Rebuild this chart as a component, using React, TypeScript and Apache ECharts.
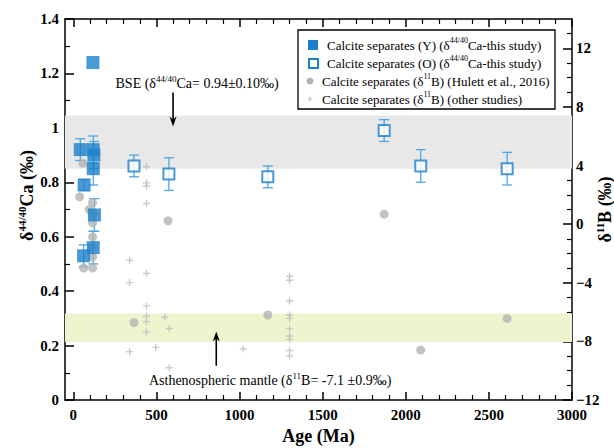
import React, { useEffect, useRef } from "react";
import * as echarts from "echarts";

const FONT = "Liberation Serif";

// ---- tick values ----
const xMajor = [0, 500, 1000, 1500, 2000, 2500, 3000];
const xMinor = [100, 200, 300, 400, 600, 700, 800, 900, 1100, 1200, 1300, 1400, 1600, 1700, 1800, 1900, 2100, 2200, 2300, 2400, 2600, 2700, 2800, 2900];
const yLeftMajor = [0, 0.2, 0.4, 0.6, 0.8, 1, 1.2, 1.4];
const yLeftMinor = [0.1, 0.3, 0.5, 0.7, 0.9, 1.1, 1.3];
const yRightMajor = [-12, -8, -4, 0, 4, 8, 12];
const yRightMinor = [-11, -10, -9, -7, -6, -5, -3, -2, -1, 1, 2, 3, 5, 6, 7, 9, 10, 11, 13];

// ---- data ----
// Calcite separates (Y): age (Ma), δ44/40Ca (‰), ± error
const ageY = [42, 120, 124, 120, 65, 127, 120, 62, 118];
const caY = [0.92, 0.92, 0.9, 0.85, 0.79, 0.68, 0.56, 0.53, 1.24];
const errY = [0.04, 0.05, 0.05, 0.06, 0.02, 0.06, 0.06, 0.04, 0.0];

// Calcite separates (O)
const ageO = [365, 575, 1170, 1870, 2090, 2610];
const caO = [0.86, 0.83, 0.82, 0.99, 0.86, 0.85];
const errO = [0.04, 0.06, 0.04, 0.04, 0.06, 0.06];

// Calcite separates δ11B (Hulett et al., 2016)
const ageHulett = [38, 58, 62, 96, 116, 116, 116, 116, 116, 116, 116, 365, 570, 1170, 1870, 2090, 2610];
const bHulett = [1.87, 4.15, -2.99, 1.0, 1.46, 0.73, 0.09, -0.87, -1.5, -2.23, -2.99, -6.72, 0.23, -6.2, 0.68, -8.59, -6.43];

// Calcite separates δ11B (other studies)
const ageOther = [440, 440, 440, 440, 440, 440, 440, 440, 440, 339, 339, 339, 496, 550, 577, 577, 1022, 1301, 1301, 1301, 1301, 1301, 1301, 1301, 1301, 1301, 1301];
const bOther = [3.92, 2.82, 2.6, 1.41, -3.37, -5.58, -6.27, -6.66, -7.36, -2.46, -3.99, -8.71, -8.41, -6.34, -7.13, -9.8, -8.52, -3.56, -3.83, -5.24, -6.2, -6.43, -7.13, -7.63, -7.86, -8.62, -9.0];

// reference bands
const bseBand = [0.85, 1.045]; // δ44/40Ca
const mantleBand = [-8.05, -6.1]; // δ11B

// annotations (data coordinates)
const bseArrow = { x: 600, from: 1.13, to: 1.005, labelY: 1.163, labelX: 745 };
const mantleArrow = { x: 860, from: 0.126, to: 0.252, labelY: 0.073, labelX: 1184 };

const BLUE = "#1b7fca";
const BAR_BLUE = "#4fa6e2";
const GREY_DOT = "#b4b4b4";
const CROSS = "#bdbdbd";

// rich styles for axis names (ECharts label style)
const richN = (size: number, bold = false) => ({ fontSize: size, fontFamily: FONT, fontWeight: bold ? "bold" : "normal", color: "#000", lineHeight: size + 4 });
const richS = (size: number, bold = false) => ({ fontSize: size, fontFamily: FONT, fontWeight: bold ? "bold" : "normal", color: "#000", lineHeight: size + 2, verticalAlign: "top" });
// rich styles for graphic texts (zrender style)
const gN = (size: number, bold = false) => ({ font: `${bold ? "bold " : ""}${size}px ${FONT}`, fontSize: size, fontFamily: FONT, fontWeight: bold ? "bold" : "normal", fill: "#000", lineHeight: size + 4 });
const gS = (size: number, bold = false) => ({ font: `${bold ? "bold " : ""}${size}px ${FONT}`, fontSize: size, fontFamily: FONT, fontWeight: bold ? "bold" : "normal", fill: "#000", lineHeight: size + 2, verticalAlign: "top" });

export default function App() {
  const ref = useRef<HTMLDivElement>(null);
  useEffect(() => {
    const chart = echarts.init(ref.current!, null, { renderer: "svg" });

    const labelStyle = { fontFamily: FONT, fontWeight: "bold", fontSize: 15, color: "#000" };
    const lineStyle = { color: "#000", width: 1.5 };
    const plain = (v: number) => String(v);

    const xAxisBase = { type: "value", min: -50, max: 3000, splitLine: { show: false } };
    const errData = (ages: number[], vals: number[], errs: number[]) => ages.map((a, i) => [a, vals[i], errs[i]]);

    const errorBarSeries = (data: number[][]) => ({
      type: "custom",
      xAxisIndex: 0,
      yAxisIndex: 0,
      z: 4,
      silent: true,
      encode: { x: 0, y: 1 },
      data,
      renderItem: (params: any, api: any) => {
        const x = api.value(0), y = api.value(1), e = api.value(2);
        if (!e) return null;
        const top = api.coord([x, y + e]);
        const bot = api.coord([x, y - e]);
        const w = 5;
        const st = { stroke: BAR_BLUE, lineWidth: 1.3 };
        return {
          type: "group",
          children: [
            { type: "line", shape: { x1: top[0], y1: top[1], x2: bot[0], y2: bot[1] }, style: st },
            { type: "line", shape: { x1: top[0] - w, y1: top[1], x2: top[0] + w, y2: top[1] }, style: st },
            { type: "line", shape: { x1: bot[0] - w, y1: bot[1], x2: bot[0] + w, y2: bot[1] }, style: st },
          ],
        };
      },
    });

    const option: any = {
      animation: false,
      backgroundColor: "#fff",
      textStyle: { fontFamily: FONT },
      grid: { left: 65, right: 42, top: 19, bottom: 48, containLabel: false, outerBoundsMode: "none" },
      xAxis: [
        {
          ...xAxisBase,
          position: "bottom",
          name: "Age (Ma)",
          nameLocation: "middle",
          nameGap: 27,
          nameTextStyle: { fontFamily: FONT, fontWeight: "bold", fontSize: 18, color: "#000" },
          axisLine: { show: true, lineStyle, onZero: false },
          axisTick: { show: true, inside: true, length: 8, lineStyle, customValues: xMajor },
          axisLabel: { ...labelStyle, margin: 7, customValues: xMajor, formatter: plain },
        },
        {
          ...xAxisBase,
          position: "bottom",
          axisLine: { show: false, onZero: false },
          axisTick: { show: true, inside: true, length: 5, lineStyle: { color: "#000", width: 1.2 }, customValues: xMinor },
          axisLabel: { show: false },
        },
        {
          ...xAxisBase,
          position: "top",
          axisLine: { show: true, lineStyle, onZero: false },
          axisTick: { show: true, inside: true, length: 8, lineStyle, customValues: xMajor },
          axisLabel: { show: false },
        },
        {
          ...xAxisBase,
          position: "top",
          axisLine: { show: false, onZero: false },
          axisTick: { show: true, inside: true, length: 5, lineStyle: { color: "#000", width: 1.2 }, customValues: xMinor },
          axisLabel: { show: false },
        },
      ],
      yAxis: [
        {
          type: "value",
          position: "left",
          min: 0,
          max: 1.4,
          splitLine: { show: false },
          axisLine: { show: true, lineStyle, onZero: false },
          axisTick: { show: true, inside: true, length: 9, lineStyle, customValues: yLeftMajor },
          axisLabel: { ...labelStyle, margin: 6, customValues: yLeftMajor, formatter: plain },
        },
        {
          type: "value",
          position: "left",
          min: 0,
          max: 1.4,
          splitLine: { show: false },
          axisLine: { show: false, onZero: false },
          axisTick: { show: true, inside: true, length: 5, lineStyle: { color: "#000", width: 1.2 }, customValues: yLeftMinor },
          axisLabel: { show: false },
        },
        {
          type: "value",
          position: "right",
          min: -12,
          max: 14,
          splitLine: { show: false },
          name: "{b|δ}{s|11}{b|B (‰)}",
          nameLocation: "middle",
          nameRotate: 90,
          nameGap: 22,
          nameMoveOverlap: false,
          nameTextStyle: { rich: { b: richN(18, true), s: richS(11, true) } },
          axisLine: { show: true, lineStyle, onZero: false },
          axisTick: { show: true, inside: true, length: 9, lineStyle, customValues: yRightMajor },
          axisLabel: {
            ...labelStyle,
            margin: 4,
            customValues: yRightMajor,
            formatter: (v: number) => (v < 0 ? "\u2212" + Math.abs(v) : String(v)),
          },
        },
        {
          type: "value",
          position: "right",
          min: -12,
          max: 14,
          splitLine: { show: false },
          axisLine: { show: false, onZero: false },
          axisTick: { show: true, inside: true, length: 5, lineStyle: { color: "#000", width: 1.2 }, customValues: yRightMinor },
          axisLabel: { show: false },
        },
      ],
      series: [
        {
          name: "bands",
          type: "scatter",
          xAxisIndex: 0,
          yAxisIndex: 0,
          z: 1,
          silent: true,
          symbolSize: 0,
          data: [[-100, -100]],
          markArea: {
            silent: true,
            itemStyle: { color: "#e8e8e8" },
            data: [[{ yAxis: bseBand[0] }, { yAxis: bseBand[1] }]],
          },
        },
        {
          name: "bandsB",
          type: "scatter",
          xAxisIndex: 0,
          yAxisIndex: 2,
          z: 1,
          silent: true,
          symbolSize: 0,
          data: [[-100, -100]],
          markArea: {
            silent: true,
            itemStyle: { color: "#eff4cf" },
            data: [[{ yAxis: mantleBand[0] }, { yAxis: mantleBand[1] }]],
          },
        },
        {
          name: "Calcite separates (δ11B) (other studies)",
          type: "scatter",
          xAxisIndex: 0,
          yAxisIndex: 2,
          z: 3,
          symbol: "path://M4,0h2v4h4v2h-4v4h-2v-4h-4v-2h4z",
          symbolSize: 7,
          itemStyle: { color: CROSS },
          data: ageOther.map((a, i) => [a, bOther[i]]),
        },
        errorBarSeries(errData(ageY, caY, errY)),
        errorBarSeries(errData(ageO, caO, errO)),
        {
          name: "Calcite separates (δ11B) (Hulett et al., 2016)",
          type: "scatter",
          xAxisIndex: 0,
          yAxisIndex: 2,
          z: 5,
          symbol: "circle",
          symbolSize: 9,
          itemStyle: { color: GREY_DOT },
          data: ageHulett.map((a, i) => [a, bHulett[i]]),
        },
        {
          name: "Calcite separates (O)",
          type: "scatter",
          xAxisIndex: 0,
          yAxisIndex: 0,
          z: 6,
          symbol: "rect",
          symbolSize: 11,
          itemStyle: { color: "#fff", borderColor: BLUE, borderWidth: 2 },
          data: ageO.map((a, i) => [a, caO[i]]),
        },
        {
          name: "Calcite separates (Y)",
          type: "scatter",
          xAxisIndex: 0,
          yAxisIndex: 0,
          z: 6,
          symbol: "rect",
          symbolSize: 13,
          itemStyle: { color: BLUE },
          data: ageY.map((a, i) => [a, caY[i]]),
        },
      ],
    };
    chart.setOption(option);

    const px = (x: number, y: number) => chart.convertToPixel({ xAxisIndex: 0, yAxisIndex: 0 }, [x, y]) as number[];

    const arrow = (x: number, fromY: number, toY: number) => {
      const a = px(x, fromY);
      const b = px(x, toY);
      const dir = b[1] > a[1] ? 1 : -1;
      const headLen = 10;
      const headW = 3.5;
      return [
        { type: "line", shape: { x1: a[0], y1: a[1], x2: b[0], y2: b[1] - dir * headLen * 0.6 }, style: { stroke: "#000", lineWidth: 1.6 }, z: 20 },
        {
          type: "polygon",
          shape: { points: [[b[0], b[1]], [b[0] - headW, b[1] - dir * headLen], [b[0], b[1] - dir * headLen * 0.7], [b[0] + headW, b[1] - dir * headLen]] },
          style: { fill: "#000" },
          z: 20,
        },
      ];
    };

    const annRich = { n: gN(14), s: gS(9) };
    const bseLbl = px(bseArrow.labelX, bseArrow.labelY);
    const mantleLbl = px(mantleArrow.labelX, mantleArrow.labelY);
    const midY = (px(0, 0)[1] + px(0, 1.4)[1]) / 2;
    const leftEdge = px(-50, 0)[0];

    const legX = 298, legY = 30, legW = 257, legH = 79;
    const rowY = [45, 63, 81, 99];
    const legRich = { n: gN(13), s: gS(8) };
    const txt = (text: string, x: number, y: number, rich: any, align = "left", size = 13) => ({
      type: "text",
      z: 31,
      style: { text, rich, x, y, align, verticalAlign: "middle", font: `${size}px ${FONT}`, fill: "#000" },
    });

    chart.setOption({
      graphic: [
        ...arrow(bseArrow.x, bseArrow.from, bseArrow.to),
        ...arrow(mantleArrow.x, mantleArrow.from, mantleArrow.to),
        txt("{n|BSE (δ}{s|44/40}{n|Ca= 0.94±0.10‰)}", bseLbl[0], bseLbl[1], annRich, "center", 14),
        txt("{n|Asthenospheric mantle (δ}{s|11}{n|B= -7.1 ±0.9‰)}", mantleLbl[0], mantleLbl[1], annRich, "center", 14),
        // left axis title
        {
          type: "text",
          z: 31,
          x: leftEdge - 38,
          y: midY - 14,
          rotation: Math.PI / 2,
          style: {
            text: "{b|δ}{s|44/40}{b|Ca (‰)}",
            rich: { b: gN(18, true), s: gS(11, true) },
            x: 0,
            y: 0,
            align: "center",
            verticalAlign: "middle",
            font: `bold 18px ${FONT}`,
            fill: "#000",
          },
        },
        // legend
        { type: "rect", z: 30, shape: { x: legX, y: legY, width: legW, height: legH }, style: { fill: "#fff", stroke: "#000", lineWidth: 1.3 } },
        { type: "rect", z: 31, shape: { x: 308, y: rowY[0] - 5, width: 10, height: 10 }, style: { fill: BLUE } },
        { type: "rect", z: 31, shape: { x: 309, y: rowY[1] - 4, width: 9, height: 9 }, style: { fill: "#fff", stroke: BLUE, lineWidth: 2 } },
        { type: "circle", z: 31, shape: { cx: 310, cy: rowY[2], r: 3.5 }, style: { fill: GREY_DOT } },
        { type: "line", z: 31, shape: { x1: 307.5, y1: rowY[3], x2: 312.5, y2: rowY[3] }, style: { stroke: CROSS, lineWidth: 1 } },
        { type: "line", z: 31, shape: { x1: 310, y1: rowY[3] - 2.5, x2: 310, y2: rowY[3] + 2.5 }, style: { stroke: CROSS, lineWidth: 1 } },
        txt("{n|Calcite separates (Y) (δ}{s|44/40}{n|Ca-this study)}", 327, rowY[0], legRich),
        txt("{n|Calcite separates (O) (δ}{s|44/40}{n|Ca-this study)}", 327, rowY[1], legRich),
        txt("{n|Calcite separates (δ}{s|11}{n|B) (Hulett et al., 2016)}", 322, rowY[2], legRich),
        txt("{n|Calcite separates (δ}{s|11}{n|B) (other studies)}", 322, rowY[3], legRich),
      ],
    });

    return () => chart.dispose();
  }, []);
  return <div ref={ref} style={{ position: "fixed", left: 0, top: 0, width: 614, height: 448 }} />;
}
